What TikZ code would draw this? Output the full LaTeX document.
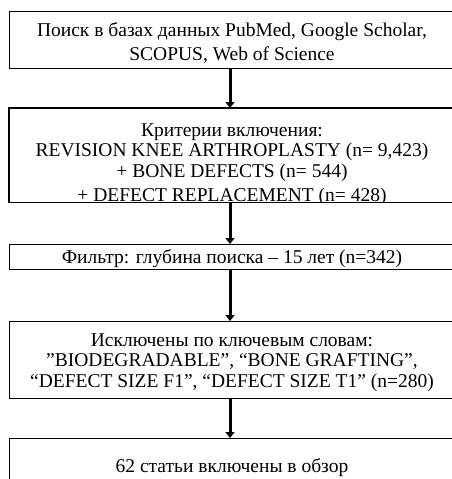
\documentclass[tikz,border=0pt]{standalone}
\usepackage{fontspec}
\setmainfont{Liberation Serif}
\usetikzlibrary{arrows.meta}
\begin{document}
\begin{tikzpicture}[x=1pt,y=-1pt,
  box/.style={draw, line width=1.4pt, rectangle, inner sep=0pt, anchor=north west, minimum width=444pt},
  frame/.style={draw, line width=1.4pt},
  txt/.style={font=\fontsize{19.5}{21}\selectfont, anchor=base, inner sep=0pt},
  arr/.style={line width=3pt, -{Triangle[length=6pt,width=9pt]}}]
\useasboundingbox (0,0) rectangle (452,479);
\clip (0,0) rectangle (452,479);
\node[box, minimum height=57pt] (b1) at (9,11) {};
\node[box, draw=none, minimum height=93pt] (b2) at (9,108) {};
\node[box, minimum height=25pt] (b3) at (9,244) {};
\node[box, minimum height=77pt] (b4) at (9,321) {};
\node[box, minimum height=60pt] (b5) at (9,438) {};
\node[txt] (t1a) at (232,36) {Поиск в базах данных PubMed, Google Scholar,};
\node[txt] (t1b) at (232,60) {SCOPUS, Web of Science};
\node[txt] (t2a) at (232,136) {Критерии включения:};
\node[txt] (t2b) at (232,156) {REVISION KNEE ARTHROPLASTY (n= 9,423)};
\node[txt] (t2c) at (232,177) {+ BONE DEFECTS (n= 544)};
\begin{scope}
\clip (b2.north west) rectangle (b2.south east);
\node[txt] (t2d) at (232,201) {+ DEFECT REPLACEMENT (n= 428)};
\end{scope}
\draw[frame] (b2.north west) rectangle (b2.south east);
\node[txt] (t3) at (232,263) {Фильтр: глубина поиска – 15 лет (n=342)};
\node[txt] (t4a) at (232,346) {Исключены по ключевым словам:};
\node[txt] (t4b) at (232,366) {”BIODEGRADABLE”, “BONE GRAFTING”,};
\node[txt] (t4c) at (232,387) {“DEFECT SIZE F1”, “DEFECT SIZE T1” (n=280)};
\node[txt] (t5) at (232,472) {62 статьи включены в обзор};
\draw[arr] (b1.south -| 230,0) -- (b2.north -| 230,0);
\draw[arr] (b2.south -| 230,0) -- (b3.north -| 230,0);
\draw[arr] (b3.south -| 230,0) -- (b4.north -| 230,0);
\draw[arr] (b4.south -| 230,0) -- (b5.north -| 230,0);
\end{tikzpicture}
\end{document}
